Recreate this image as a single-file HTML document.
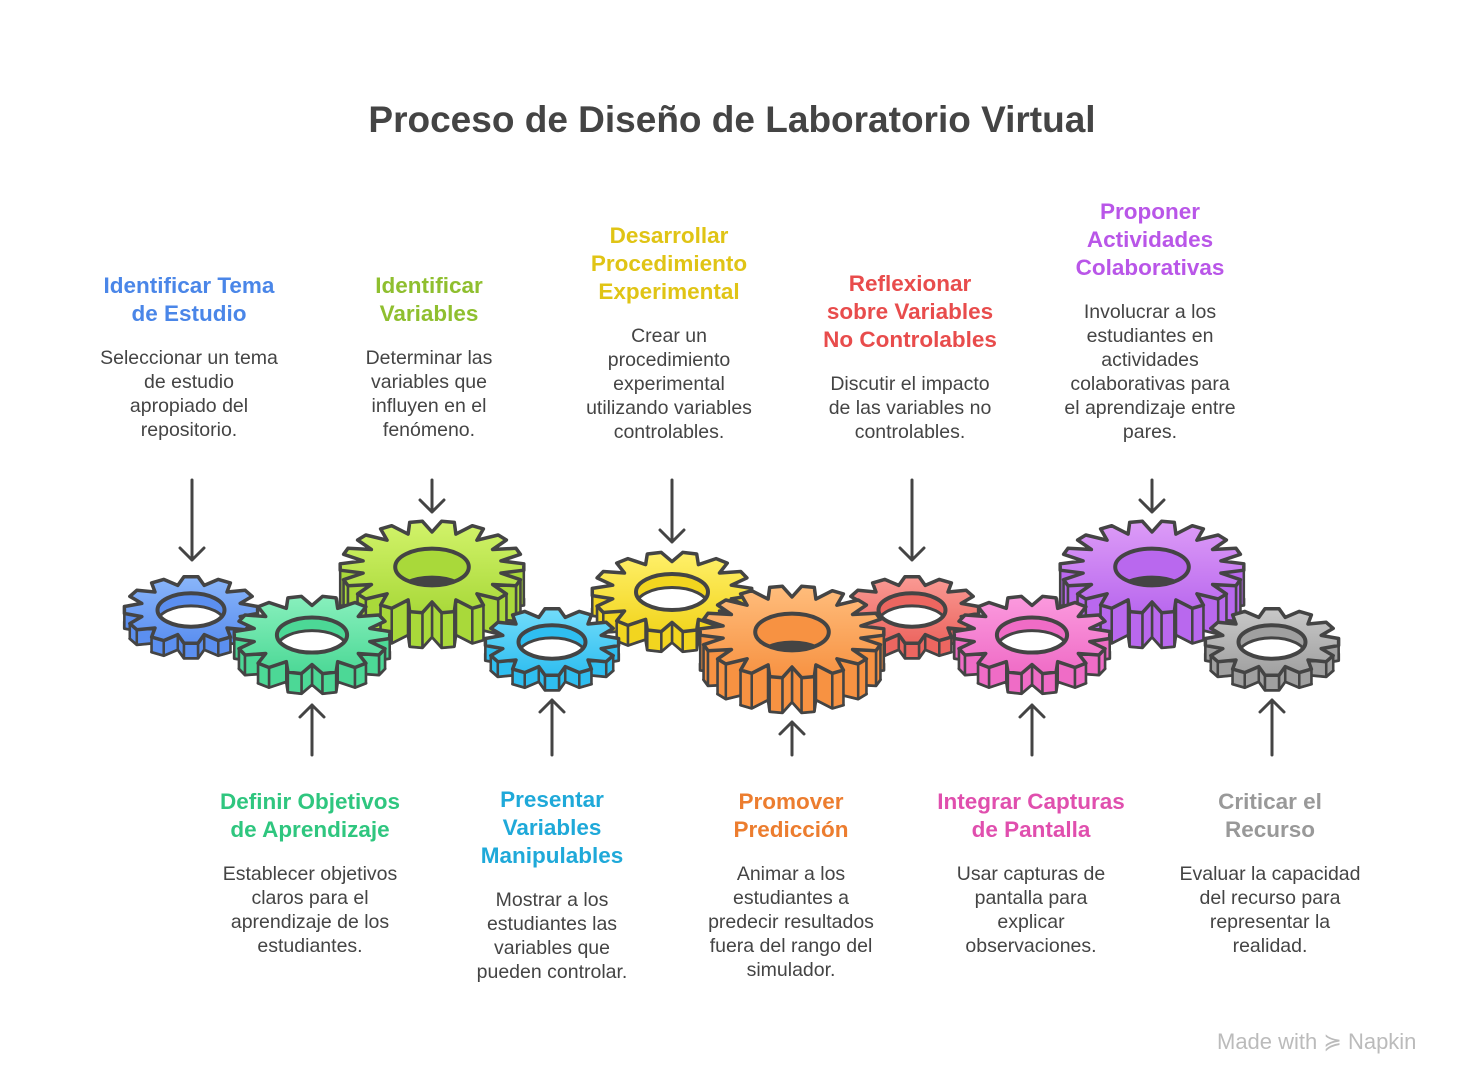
<!DOCTYPE html>
<html><head><meta charset="utf-8">
<style>
body{margin:0;width:1464px;height:1080px;background:#fff;font-family:"Liberation Sans",Arial,sans-serif;position:relative;overflow:hidden}
.t{position:absolute;text-align:center;transform:translateX(-50%);}
.h{font-weight:bold;font-size:22.5px;line-height:28px}
.b{font-size:19.5px;line-height:24px;color:#444;margin-top:18px;white-space:nowrap}
h1{position:absolute;top:99px;left:0;width:1464px;text-align:center;margin:0;font-size:37px;color:#444;font-weight:bold}
</style></head><body>
<h1>Proceso de Diseño de Laboratorio Virtual</h1>

<div class="t" style="left:189px;top:272px;width:220px"><div class="h" style="color:#4a86e8">Identificar Tema<br>de Estudio</div><div class="b">Seleccionar un tema<br>de estudio<br>apropiado del<br>repositorio.</div></div>
<div class="t" style="left:429px;top:272px;width:220px"><div class="h" style="color:#8fbf2f">Identificar<br>Variables</div><div class="b">Determinar las<br>variables que<br>influyen en el<br>fenómeno.</div></div>
<div class="t" style="left:669px;top:222px;width:220px"><div class="h" style="color:#e0c415">Desarrollar<br>Procedimiento<br>Experimental</div><div class="b">Crear un<br>procedimiento<br>experimental<br>utilizando variables<br>controlables.</div></div>
<div class="t" style="left:910px;top:270px;width:220px"><div class="h" style="color:#e84c4c">Reflexionar<br>sobre Variables<br>No Controlables</div><div class="b">Discutir el impacto<br>de las variables no<br>controlables.</div></div>
<div class="t" style="left:1150px;top:198px;width:220px"><div class="h" style="color:#b956e8">Proponer<br>Actividades<br>Colaborativas</div><div class="b">Involucrar a los<br>estudiantes en<br>actividades<br>colaborativas para<br>el aprendizaje entre<br>pares.</div></div>

<div class="t" style="left:310px;top:788px;width:220px"><div class="h" style="color:#2fc67f">Definir Objetivos<br>de Aprendizaje</div><div class="b">Establecer objetivos<br>claros para el<br>aprendizaje de los<br>estudiantes.</div></div>
<div class="t" style="left:552px;top:786px;width:220px"><div class="h" style="color:#1fa9d9">Presentar<br>Variables<br>Manipulables</div><div class="b">Mostrar a los<br>estudiantes las<br>variables que<br>pueden controlar.</div></div>
<div class="t" style="left:791px;top:788px;width:220px"><div class="h" style="color:#ec7d2f">Promover<br>Predicción</div><div class="b">Animar a los<br>estudiantes a<br>predecir resultados<br>fuera del rango del<br>simulador.</div></div>
<div class="t" style="left:1031px;top:788px;width:220px"><div class="h" style="color:#e04fae">Integrar Capturas<br>de Pantalla</div><div class="b">Usar capturas de<br>pantalla para<br>explicar<br>observaciones.</div></div>
<div class="t" style="left:1270px;top:788px;width:220px"><div class="h" style="color:#999">Criticar el<br>Recurso</div><div class="b">Evaluar la capacidad<br>del recurso para<br>representar la<br>realidad.</div></div>

<div style="position:absolute;left:1217px;top:1029px;font-size:22px;color:#bbb;white-space:nowrap">Made with <span style="font-size:22px">≽</span> Napkin</div>

<svg id="s" width="1464" height="1080" style="position:absolute;left:0;top:0" xmlns="http://www.w3.org/2000/svg">
<g stroke="#444" stroke-width="3" fill="none" stroke-linecap="round" stroke-linejoin="round">
<path d="M192 480V560M180 548L192 560L204 548"/>
<path d="M432 480V512M420 500L432 512L444 500"/>
<path d="M672 480V542M660 530L672 542L684 530"/>
<path d="M912 480V560M900 548L912 560L924 548"/>
<path d="M1152 480V512M1140 500L1152 512L1164 500"/>
<path d="M312 755V705M300 717L312 705L324 717"/>
<path d="M552 755V700M540 712L552 700L564 712"/>
<path d="M792 755V722M780 734L792 722L804 734"/>
<path d="M1032 755V705M1020 717L1032 705L1044 717"/>
<path d="M1272 755V700M1260 712L1272 700L1284 712"/>
</g>
<g id="gears"></g>
</svg>
<script>
var G=[
[432,567,92,35,18,'#d2f36a','#a9d93a','#96c42a'],
[1152,567,92,35,18,'#dd9cf7','#b968ee','#a24fdc'],
[672,592,80,20,14,'#fff06a','#f2d51f','#dcbd10'],
[191,610,67,15,12,'#8ab6fa','#5b8ff0','#4a7de0'],
[912,610,67,15,12,'#fa9a94','#ec6660','#d85050'],
[792,632,92,35,18,'#ffbd7c','#f79242','#e57e2c'],
[312,635,78,20,14,'#88f0bd','#4cd896','#38c282'],
[1032,635,78,20,14,'#fb9ade','#ef6cc6','#dc55b2'],
[552,642,67,15,12,'#72dcfa','#2fbef0','#1fa8dc'],
[1272,642,67,15,12,'#c8c8c8','#a0a0a0','#8a8a8a']];
var K=0.5,g=document.getElementById('gears'),h='';
G.forEach(function(a,i){
 var cx=a[0],cy=a[1],R=a[2],d=a[3],n=a[4],c1=a[5],c2=a[6],c3=a[7],r=R*0.76,pts=[];
 for(var k=0;k<n;k++){var b=k/n*2*Math.PI,s=2*Math.PI/n;
  [[r,-0.5],[R,-0.2],[R,0.2],[r,0.5]].forEach(function(p){var t=b+p[1]*s;
   pts.push([cx+p[0]*Math.cos(t),cy+p[0]*Math.sin(t)*K]);});}
 function poly(P,dy){return P.map(function(p){return p[0].toFixed(1)+','+(p[1]+dy).toFixed(1)}).join(' ')}
 h+='<defs><linearGradient id="g'+i+'" x1="0" y1="0" x2="0" y2="1"><stop offset="0" stop-color="'+c1+'"/><stop offset="1" stop-color="'+c2+'"/></linearGradient></defs>';
 h+='<polygon points="'+poly(pts,d)+'" fill="'+c3+'" stroke="#444" stroke-width="3" stroke-linejoin="round"/>';
 var q=[];for(var k=0;k<pts.length;k++){var A=pts[k],B=pts[(k+1)%pts.length];q.push([A,B,(A[1]+B[1])/2]);}
 q.sort(function(x,y){return x[2]-y[2]});
 q.forEach(function(e){var A=e[0],B=e[1];if(e[2]<cy-2)return;
  h+='<polygon points="'+A[0].toFixed(1)+','+A[1].toFixed(1)+' '+B[0].toFixed(1)+','+B[1].toFixed(1)+' '+B[0].toFixed(1)+','+(B[1]+d).toFixed(1)+' '+A[0].toFixed(1)+','+(A[1]+d).toFixed(1)+'" fill="'+c2+'" stroke="#444" stroke-width="2.5" stroke-linejoin="round"/>';});
 h+='<polygon points="'+poly(pts,0)+'" fill="url(#g'+i+')" stroke="#444" stroke-width="3.5" stroke-linejoin="round"/>';
 var big=d>25,hr=R*(big?0.4:(R>75?0.45:0.5)),hy=hr*K;
 var off=big?hy*1.55:hy*0.75;
 h+='<clipPath id="c'+i+'"><ellipse cx="'+cx+'" cy="'+cy+'" rx="'+hr+'" ry="'+hy+'"/></clipPath>';
 h+='<ellipse cx="'+cx+'" cy="'+cy+'" rx="'+hr+'" ry="'+hy+'" fill="'+c2+'"/>';
 h+='<ellipse clip-path="url(#c'+i+')" cx="'+cx+'" cy="'+(cy+off)+'" rx="'+hr+'" ry="'+hy+'" fill="'+(big?'#444':'#fff')+'" stroke="#444" stroke-width="3"/>';
 h+='<ellipse cx="'+cx+'" cy="'+cy+'" rx="'+hr+'" ry="'+hy+'" fill="none" stroke="#444" stroke-width="4"/>';
});
g.innerHTML=h;
</script>
</body></html>
